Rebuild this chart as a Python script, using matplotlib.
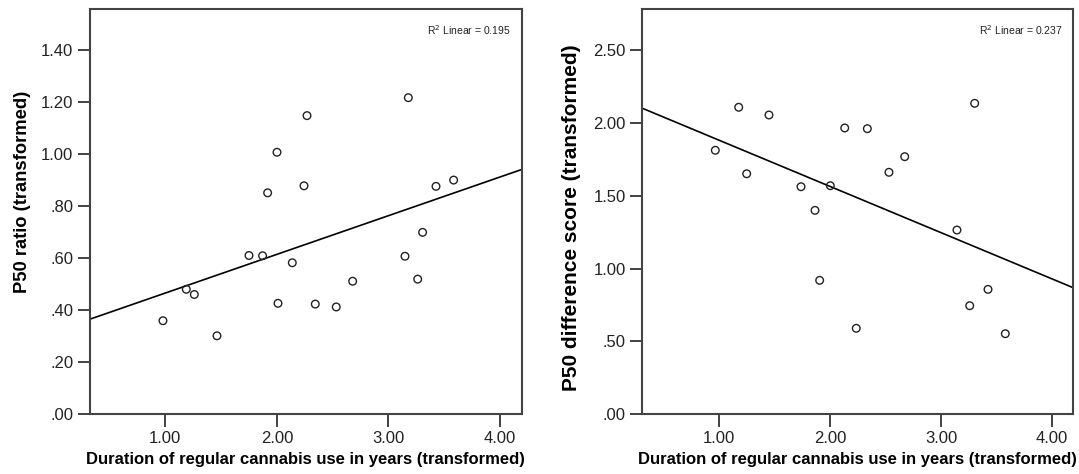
import numpy as np
import matplotlib
matplotlib.use("Agg")
import matplotlib.pyplot as plt

plt.rcParams['font.family'] = ['Liberation Sans', 'DejaVu Sans']

# Left panel: P50 ratio
ratio_x = [0.979, 1.188, 1.260, 1.463, 1.750, 1.872, 1.917, 2.001, 2.010, 2.138,
           2.243, 2.270, 2.344, 2.532, 2.679, 3.148, 3.178, 3.262, 3.306, 3.426, 3.584]
ratio_y = [0.360, 0.481, 0.461, 0.302, 0.611, 0.610, 0.852, 1.008, 0.427, 0.583,
           0.879, 1.149, 0.424, 0.413, 0.512, 0.608, 1.218, 0.520, 0.700, 0.877, 0.901]
ratio_r2 = "0.195"

# Right panel: P50 difference score
diff_x = [0.964, 1.175, 1.247, 1.448, 1.737, 1.863, 1.905, 2.001, 2.131, 2.235,
          2.335, 2.530, 2.672, 3.143, 3.258, 3.303, 3.423, 3.579]
diff_y = [1.811, 2.106, 1.650, 2.053, 1.561, 1.399, 0.919, 1.568, 1.964, 0.590,
          1.959, 1.660, 1.767, 1.264, 0.745, 2.133, 0.857, 0.553]
diff_r2 = "0.237"

x_ticks = [1.0, 2.0, 3.0, 4.0]
x_ticklabels = ["1.00", "2.00", "3.00", "4.00"]
ratio_ticks = [0.0, 0.2, 0.4, 0.6, 0.8, 1.0, 1.2, 1.4]
ratio_ticklabels = [".00", ".20", ".40", ".60", ".80", "1.00", "1.20", "1.40"]
diff_ticks = [0.0, 0.5, 1.0, 1.5, 2.0, 2.5]
diff_ticklabels = [".00", ".50", "1.00", "1.50", "2.00", "2.50"]

xlabel = "Duration of regular cannabis use in years (transformed)"

fig = plt.figure(figsize=(10.79, 4.74), dpi=100)
ax1 = fig.add_axes([0.0834, 0.1259, 0.4001, 0.8545])
ax2 = fig.add_axes([0.5953, 0.1259, 0.3994, 0.8545])

panels = [
    (ax1, ratio_x, ratio_y, ratio_r2, ratio_ticks, ratio_ticklabels, (0, 1.558),
     "P50 ratio (transformed)", (0.325, 4.194), 13.2, (-0.157, 0.548)),
    (ax2, diff_x, diff_y, diff_r2, diff_ticks, diff_ticklabels, (0, 2.778),
     "P50 difference score (transformed)", (0.306, 4.192), 15.0, (-0.165, 0.486)),
]

for ax, xs, ys, r2, yt, ytl, ylim, ylabel, xlim, ylsize, ylpos in panels:
    xs = np.array(xs); ys = np.array(ys)
    ax.scatter(xs, ys, s=30, facecolors='none', edgecolors='#222222',
               linewidths=1.0, zorder=3)
    slope, intercept = np.polyfit(xs, ys, 1)
    lx = np.array(xlim)
    ax.plot(lx, slope * lx + intercept, color='black', lw=1.2, zorder=2,
            clip_on=True)
    ax.set_xlim(*xlim)
    ax.set_ylim(*ylim)
    ax.set_xticks(x_ticks)
    ax.set_xticklabels(x_ticklabels)
    ax.set_yticks(yt)
    ax.set_yticklabels(ytl)
    ax.tick_params(axis='both', direction='out', length=9, width=1.3,
                   color='#333333', labelsize=12, labelcolor='#222222', pad=3)
    for sp in ax.spines.values():
        sp.set_color('#444444')
        sp.set_linewidth(1.5)
    ax.set_xlabel(xlabel, fontsize=12, fontweight='bold', labelpad=4)
    ax.set_ylabel(ylabel, fontsize=ylsize, fontweight='bold', va='center')
    ax.yaxis.set_label_coords(*ylpos)
    ax.text(0.975, 0.965, "R$^2$ Linear = " + r2, transform=ax.transAxes,
            ha='right', va='top', fontsize=7.5, color='#222222')

fig.savefig("out.png", dpi=100)
